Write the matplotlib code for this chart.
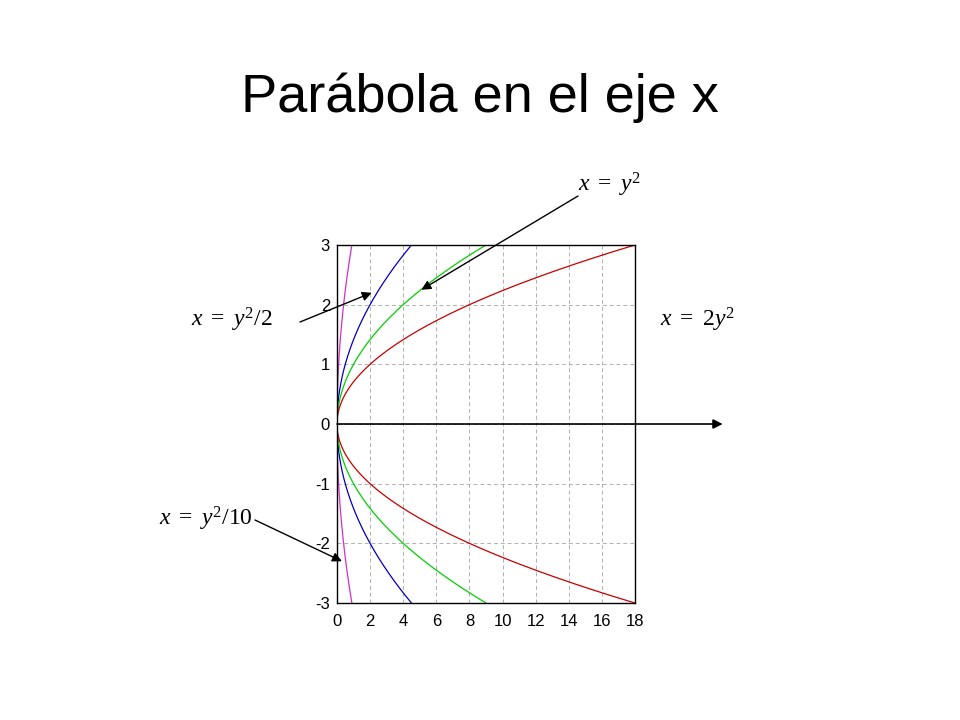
import numpy as np
import matplotlib.pyplot as plt

plt.rcParams['font.family'] = ['Liberation Sans', 'DejaVu Sans']
plt.rcParams['mathtext.fontset'] = 'custom'
plt.rcParams['mathtext.rm'] = 'Liberation Serif'
plt.rcParams['mathtext.it'] = 'Liberation Serif:italic'
plt.rcParams['axes.unicode_minus'] = False

# x = a*y^2 for each curve
coefs = [0.1, 0.5, 1.0, 2.0]
colors = ['#d030d0', '#0000c0', '#00d000', '#c80000']
y_max = 3
xticks = [0, 2, 4, 6, 8, 10, 12, 14, 16, 18]
yticks = [-3, -2, -1, 0, 1, 2, 3]

fig = plt.figure(figsize=(9.6, 7.2), dpi=100)
fig.text(0.5, 1 - 112/720, 'Parábola en el eje x', ha='center', va='baseline', fontsize=39)

ax = fig.add_axes([0.351, 0.1625, 0.3104, 0.4972])
y = np.linspace(0.1, y_max, 200)
for a, c in zip(coefs, colors):
    ax.plot(a * y**2, y, color=c, lw=0.9)
    ax.plot(a * y**2, -y, color=c, lw=0.9)

ax.set_xlim(0, 18)
ax.set_ylim(-3, 3)
ax.set_xticks(xticks)
ax.set_yticks(yticks)
ax.tick_params(length=0, labelsize=12)
ax.tick_params(axis='x', pad=8)
ax.tick_params(axis='y', pad=5)
ax.grid(True, ls=(0, (4, 3)), color='#b0b0b0', lw=0.7)
for s in ax.spines.values():
    s.set_linewidth(1.0)

# x axis arrow
ax.annotate('', xy=(23.3, 0), xytext=(0, 0), annotation_clip=False,
            arrowprops=dict(arrowstyle='-|>', color='black', lw=1.2,
                            mutation_scale=14, shrinkA=0, shrinkB=0))

tsize = 17
arr = dict(arrowstyle='-|>', color='black', lw=1.0, mutation_scale=14,
           shrinkA=0, shrinkB=0)
fig.text(610/960, 1 - 185/720, r'$x\ =\ y^2$', fontsize=tsize, ha='center', va='center')
fig.text(232/960, 1 - 320/720, r'$x\ =\ y^2/2$', fontsize=tsize, ha='center', va='center')
fig.text(697/960, 1 - 320/720, r'$x\ =\ 2y^2$', fontsize=tsize, ha='center', va='center')
fig.text(206/960, 1 - 519/720, r'$x\ =\ y^2/10$', fontsize=tsize, ha='center', va='center')

ax.annotate('', xy=(5.1, 2.25), xytext=(578/960, 1 - 196/720),
            textcoords='figure fraction', arrowprops=arr)
ax.annotate('', xy=(2.1, 2.2), xytext=(300/960, 1 - 322/720),
            textcoords='figure fraction', arrowprops=arr)
ax.annotate('', xy=(0.3, -2.3), xytext=(255/960, 1 - 520/720),
            textcoords='figure fraction', arrowprops=arr)

fig.savefig('out.png', dpi=100)
